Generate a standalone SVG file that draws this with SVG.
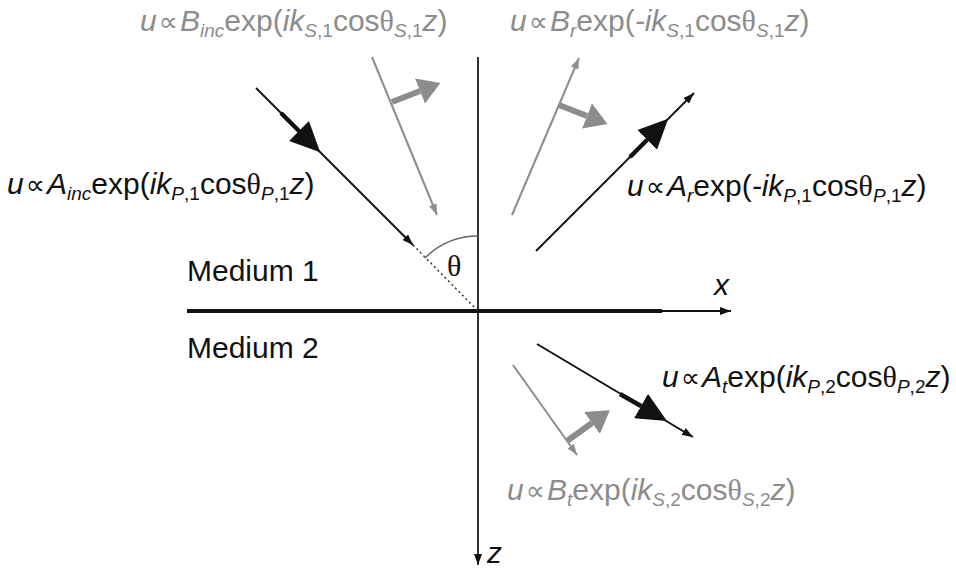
<svg xmlns="http://www.w3.org/2000/svg" width="956" height="569" viewBox="0 0 956 569">
<style>
text{font-family:"Liberation Sans",Arial,"DejaVu Sans",sans-serif;font-size:30px}
.k{fill:#111}
.g{fill:#8c8c8c}
.it{font-style:italic}
.sub{font-size:19px}
.prop{font-size:27px}
.th{font-family:"Liberation Serif","DejaVu Serif",serif}
.med{font-size:30px;fill:#111}
.lk{stroke:#111;stroke-width:2;fill:none}
.lg{stroke:#8c8c8c;stroke-width:2;fill:none}
.thk{stroke:#111;stroke-width:4.5;fill:none}
.thg{stroke:#8c8c8c;stroke-width:6;fill:none}
</style>
<defs>
<marker id="tk" viewBox="0 0 11 8" refX="11" refY="4" markerWidth="11" markerHeight="8" markerUnits="userSpaceOnUse" orient="auto"><path d="M0,0 L11,4 L0,8 z" fill="#111"/></marker>
<marker id="tg" viewBox="0 0 11 8" refX="11" refY="4" markerWidth="11" markerHeight="8" markerUnits="userSpaceOnUse" orient="auto"><path d="M0,0 L11,4 L0,8 z" fill="#8c8c8c"/></marker>
<marker id="bk" viewBox="0 0 30 28" refX="0" refY="14" markerWidth="30" markerHeight="28" markerUnits="userSpaceOnUse" orient="auto"><path d="M0,0 L30,14 L0,28 z" fill="#111"/></marker>
<marker id="bg" viewBox="0 0 22 27" refX="0" refY="13.5" markerWidth="22" markerHeight="27" markerUnits="userSpaceOnUse" orient="auto"><path d="M0,0 L22,13.5 L0,27 z" fill="#8c8c8c"/></marker>
</defs>

<g id="axes">
<line class="lk" x1="478" y1="57" x2="478" y2="565" marker-end="url(#tk)" stroke-width="1.5" style="stroke:#333"/>
<line x1="187" y1="311" x2="662" y2="311" stroke="#111" stroke-width="4"/>
<line class="lk" x1="662" y1="311" x2="731" y2="311" stroke-width="1.5" marker-end="url(#tk)"/>
<text class="k it" x="714" y="295">x</text>
<text class="k it" x="487" y="563">z</text>
</g>

<g id="angle">
<line x1="413" y1="245" x2="478" y2="311" stroke="#333" stroke-width="1.5" stroke-dasharray="2,3"/>
<path d="M425,258 A75,75 0 0 1 478,236" fill="none" stroke="#666" stroke-width="1.5"/>
<text class="k th" x="447" y="276" font-size="24">θ</text>
</g>

<g id="media">
<text class="med" x="187" y="281">Medium 1</text>
<text class="med" x="187" y="358">Medium 2</text>
</g>

<g id="connectors">
<g id="incP">
<line class="lk" x1="256" y1="88" x2="413" y2="245" marker-end="url(#tk)"/>
<line class="thk" x1="281" y1="113" x2="299" y2="131" marker-end="url(#bk)"/>
</g>
<g id="incS">
<line class="lg" x1="372" y1="57" x2="437" y2="215" marker-end="url(#tg)"/>
<line class="thg" x1="392" y1="102" x2="420" y2="91" marker-end="url(#bg)"/>
</g>
<g id="refS">
<line class="lg" x1="512" y1="215" x2="579" y2="58" marker-end="url(#tg)"/>
<line class="thg" x1="559" y1="105" x2="587" y2="116" marker-end="url(#bg)"/>
</g>
<g id="refP">
<line class="lk" x1="536" y1="251" x2="694" y2="93" marker-end="url(#tk)"/>
<line class="thk" x1="630" y1="157" x2="647" y2="140" marker-end="url(#bk)"/>
</g>
<g id="traP">
<line class="lk" x1="537" y1="344" x2="693" y2="437" marker-end="url(#tk)"/>
<line class="thk" x1="620" y1="394" x2="641" y2="406" marker-end="url(#bk)"/>
</g>
<g id="traS">
<line class="lg" x1="513" y1="365" x2="577" y2="455" marker-end="url(#tg)"/>
<line class="thg" x1="567" y1="441" x2="592" y2="423" marker-end="url(#bg)"/>
</g>
</g>

<g id="label-incS">
<text class="g" x="140" y="31"><tspan class="it">u</tspan><tspan class="prop" dx="2">∝</tspan><tspan class="it" dx="2">B</tspan><tspan class="sub it" dy="6">inc</tspan><tspan dy="-6">exp(</tspan><tspan class="it">ik</tspan><tspan class="sub" dy="6"><tspan class="it">S</tspan>,1</tspan><tspan dy="-6">cos</tspan><tspan class="th">θ</tspan><tspan class="sub" dy="6"><tspan class="it">S</tspan>,1</tspan><tspan class="it" dy="-6">z</tspan>)</text>
</g>
<g id="label-refS">
<text class="g" x="510" y="31"><tspan class="it">u</tspan><tspan class="prop" dx="2">∝</tspan><tspan class="it" dx="2">B</tspan><tspan class="sub it" dy="6">r</tspan><tspan dy="-6">exp(</tspan><tspan class="it">-ik</tspan><tspan class="sub" dy="6"><tspan class="it">S</tspan>,1</tspan><tspan dy="-6">cos</tspan><tspan class="th">θ</tspan><tspan class="sub" dy="6"><tspan class="it">S</tspan>,1</tspan><tspan class="it" dy="-6">z</tspan>)</text>
</g>
<g id="label-incP">
<text class="k" x="7" y="194"><tspan class="it">u</tspan><tspan class="prop" dx="2">∝</tspan><tspan class="it" dx="2">A</tspan><tspan class="sub it" dy="6">inc</tspan><tspan dy="-6">exp(</tspan><tspan class="it">ik</tspan><tspan class="sub" dy="6"><tspan class="it">P</tspan>,1</tspan><tspan dy="-6">cos</tspan><tspan class="th">θ</tspan><tspan class="sub" dy="6"><tspan class="it">P</tspan>,1</tspan><tspan class="it" dy="-6">z</tspan>)</text>
</g>
<g id="label-refP">
<text class="k" x="627" y="196"><tspan class="it">u</tspan><tspan class="prop" dx="2">∝</tspan><tspan class="it" dx="2">A</tspan><tspan class="sub it" dy="6">r</tspan><tspan dy="-6">exp(</tspan><tspan class="it">-ik</tspan><tspan class="sub" dy="6"><tspan class="it">P</tspan>,1</tspan><tspan dy="-6">cos</tspan><tspan class="th">θ</tspan><tspan class="sub" dy="6"><tspan class="it">P</tspan>,1</tspan><tspan class="it" dy="-6">z</tspan>)</text>
</g>
<g id="label-traP">
<text class="k" x="662" y="387"><tspan class="it">u</tspan><tspan class="prop" dx="2">∝</tspan><tspan class="it" dx="2">A</tspan><tspan class="sub it" dy="6">t</tspan><tspan dy="-6">exp(</tspan><tspan class="it">ik</tspan><tspan class="sub" dy="6"><tspan class="it">P</tspan>,2</tspan><tspan dy="-6">cos</tspan><tspan class="th">θ</tspan><tspan class="sub" dy="6"><tspan class="it">P</tspan>,2</tspan><tspan class="it" dy="-6">z</tspan>)</text>
</g>
<g id="label-traS">
<text class="g" x="507" y="500"><tspan class="it">u</tspan><tspan class="prop" dx="2">∝</tspan><tspan class="it" dx="2">B</tspan><tspan class="sub it" dy="6">t</tspan><tspan dy="-6">exp(</tspan><tspan class="it">ik</tspan><tspan class="sub" dy="6"><tspan class="it">S</tspan>,2</tspan><tspan dy="-6">cos</tspan><tspan class="th">θ</tspan><tspan class="sub" dy="6"><tspan class="it">S</tspan>,2</tspan><tspan class="it" dy="-6">z</tspan>)</text>
</g>
</svg>
